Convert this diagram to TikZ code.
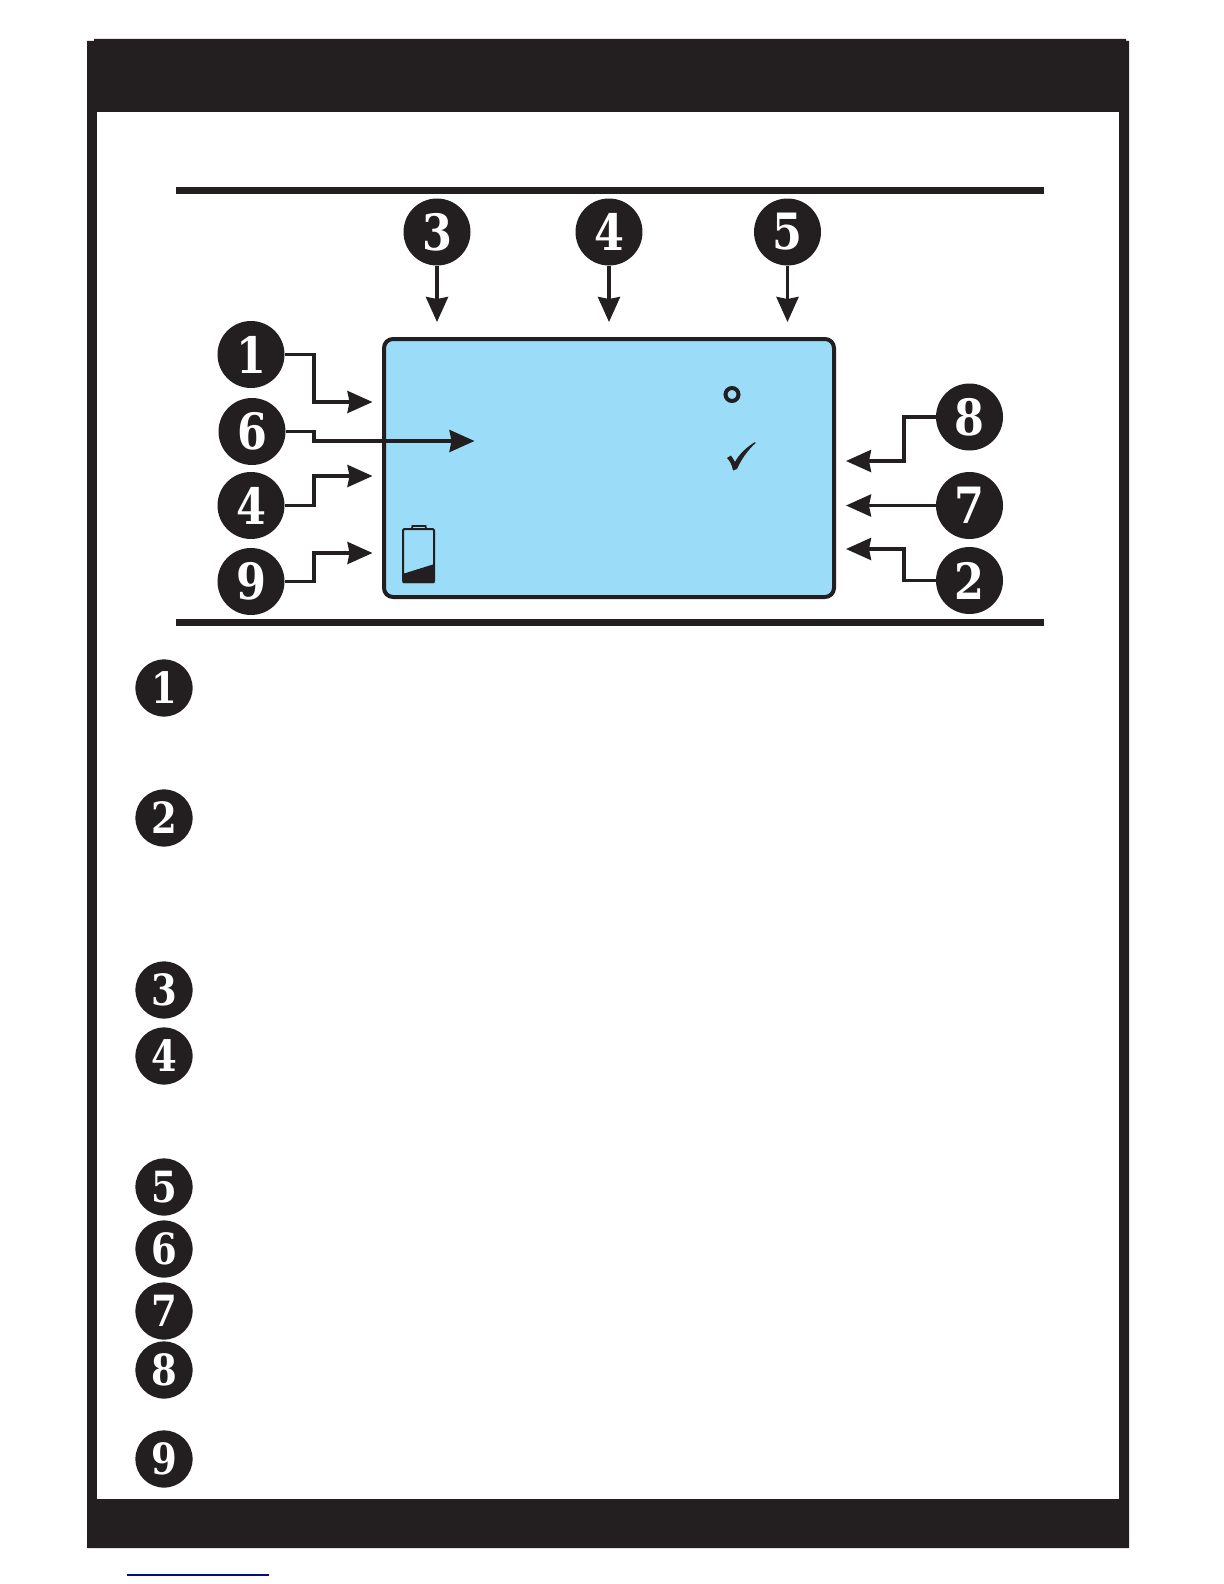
\documentclass[tikz,border=0pt]{standalone}
\usepackage{fontspec}
\setmainfont{DejaVu Serif}[FakeStretch=0.86]
\usetikzlibrary{arrows.meta}
\definecolor{ink}{HTML}{231F20}
\definecolor{lcd}{HTML}{9BDDF9}
\definecolor{linkblue}{HTML}{00107F}
\tikzset{
  big/.style={circle,fill=ink,text=white,minimum size=33.5pt,inner sep=0pt,font=\fontsize{25}{25}\bfseries\selectfont},
  small/.style={circle,fill=ink,text=white,minimum size=28.6pt,inner sep=0pt,font=\fontsize{21.5}{21.5}\bfseries\selectfont},
  conn/.style={draw=ink,line width=1.7pt,-{Stealth[length=12.5pt,width=11pt,inset=1pt]}},
}
\begin{document}
\begin{tikzpicture}[x=0.5pt,y=-0.5pt]
\useasboundingbox (0,0) rectangle (1224,1584);
\fill[white] (0,0) rectangle (1224,1584);
% frame
\fill[ink] (87,41) -- (94,41) -- (94,39) -- (1126,39) -- (1126,41) -- (1129,41) -- (1129,1548) -- (87,1548) -- cycle;
\fill[white] (97,112) rectangle (1119,1499);
% rules
\fill[ink] (176,187) rectangle (1044,194);
\fill[ink] (176,619) rectangle (1044,626);
% display
\draw[draw=ink,fill=lcd,line width=2pt,rounded corners=4.5pt] (384,339) rectangle (834,597);
% battery
\draw[ink,line width=1pt,rounded corners=0.6pt] (403,529) rectangle (434,582);
\draw[ink,line width=0.9pt] (412,528.5) -- (412.5,526) -- (425.5,526) -- (426,528.5);
\fill[ink] (402.5,574) -- (434.5,564) -- (434.5,583) -- (402.5,583) -- cycle;
% indicators
\draw[ink,line width=2pt] (732,394.5) circle (6.5);
\fill[ink] (727,458) -- (731,455.5) .. controls (732.5,458) and (734,460) .. (735,462)
  .. controls (739,454) and (747,447) .. (755,442) -- (755.5,443)
  .. controls (747,451) and (741,460) .. (737,469) -- (733,470.5)
  .. controls (732,465) and (730,461) .. (727,458) -- cycle;
% diagram callouts
\node[big] (c3) at (437,232) {3};
\node[big] (c4) at (609,232) {4};
\node[big] (c5) at (787.5,232) {5};
\node[big] (c1) at (251,354.5) {1};
\node[big] (c6) at (252,431.5) {6};
\node[big] (d4) at (251,505.5) {4};
\node[big] (c9) at (251,581.5) {9};
\node[big] (c8) at (969.5,417) {8};
\node[big] (c7) at (969.5,505.5) {7};
\node[big] (c2) at (969.5,580.5) {2};
\coordinate (t3) at (437,322);
\coordinate (t4) at (609,322);
\coordinate (t5) at (787.5,322);
\coordinate (b1) at (314,402); \coordinate (t1) at (372.5,402);
\coordinate (b6) at (314,441); \coordinate (t6) at (474.5,441);
\coordinate (b4) at (314,476); \coordinate (u4) at (372.5,476);
\coordinate (b9) at (314,553); \coordinate (t9) at (372.5,553);
\coordinate (b8) at (904,461); \coordinate (t8) at (846,461);
\coordinate (t7) at (846,505.5);
\coordinate (b2) at (904,549); \coordinate (t2) at (846,549);
\draw[conn] (c3) -- (t3);
\draw[conn] (c4) -- (t4);
\draw[conn] (c5) -- (t5);
\draw[conn] (c1.east) -| (b1) -- (t1);
\draw[conn] (c6.east) -| (b6) -- (t6);
\draw[conn] (d4.east) -| (b4) -- (u4);
\draw[conn] (c9.east) -| (b9) -- (t9);
\draw[conn] (c8.west) -| (b8) -- (t8);
\draw[conn] (c7.west) -- (t7);
\draw[conn] (c2.west) -| (b2) -- (t2);
% legend
\node[small] (l1) at (164,688) {1};
\node[small] (l2) at (164,818) {2};
\node[small] (l3) at (164,990) {3};
\node[small] (l4) at (164,1056) {4};
\node[small] (l5) at (164,1187) {5};
\node[small] (l6) at (164,1249) {6};
\node[small] (l7) at (164,1311) {7};
\node[small] (l8) at (164,1370) {8};
\node[small] (l9) at (164,1459) {9};
% footer link
\draw[linkblue,line width=0.8pt] (127,1575) -- (269,1575);
\end{tikzpicture}
\end{document}
